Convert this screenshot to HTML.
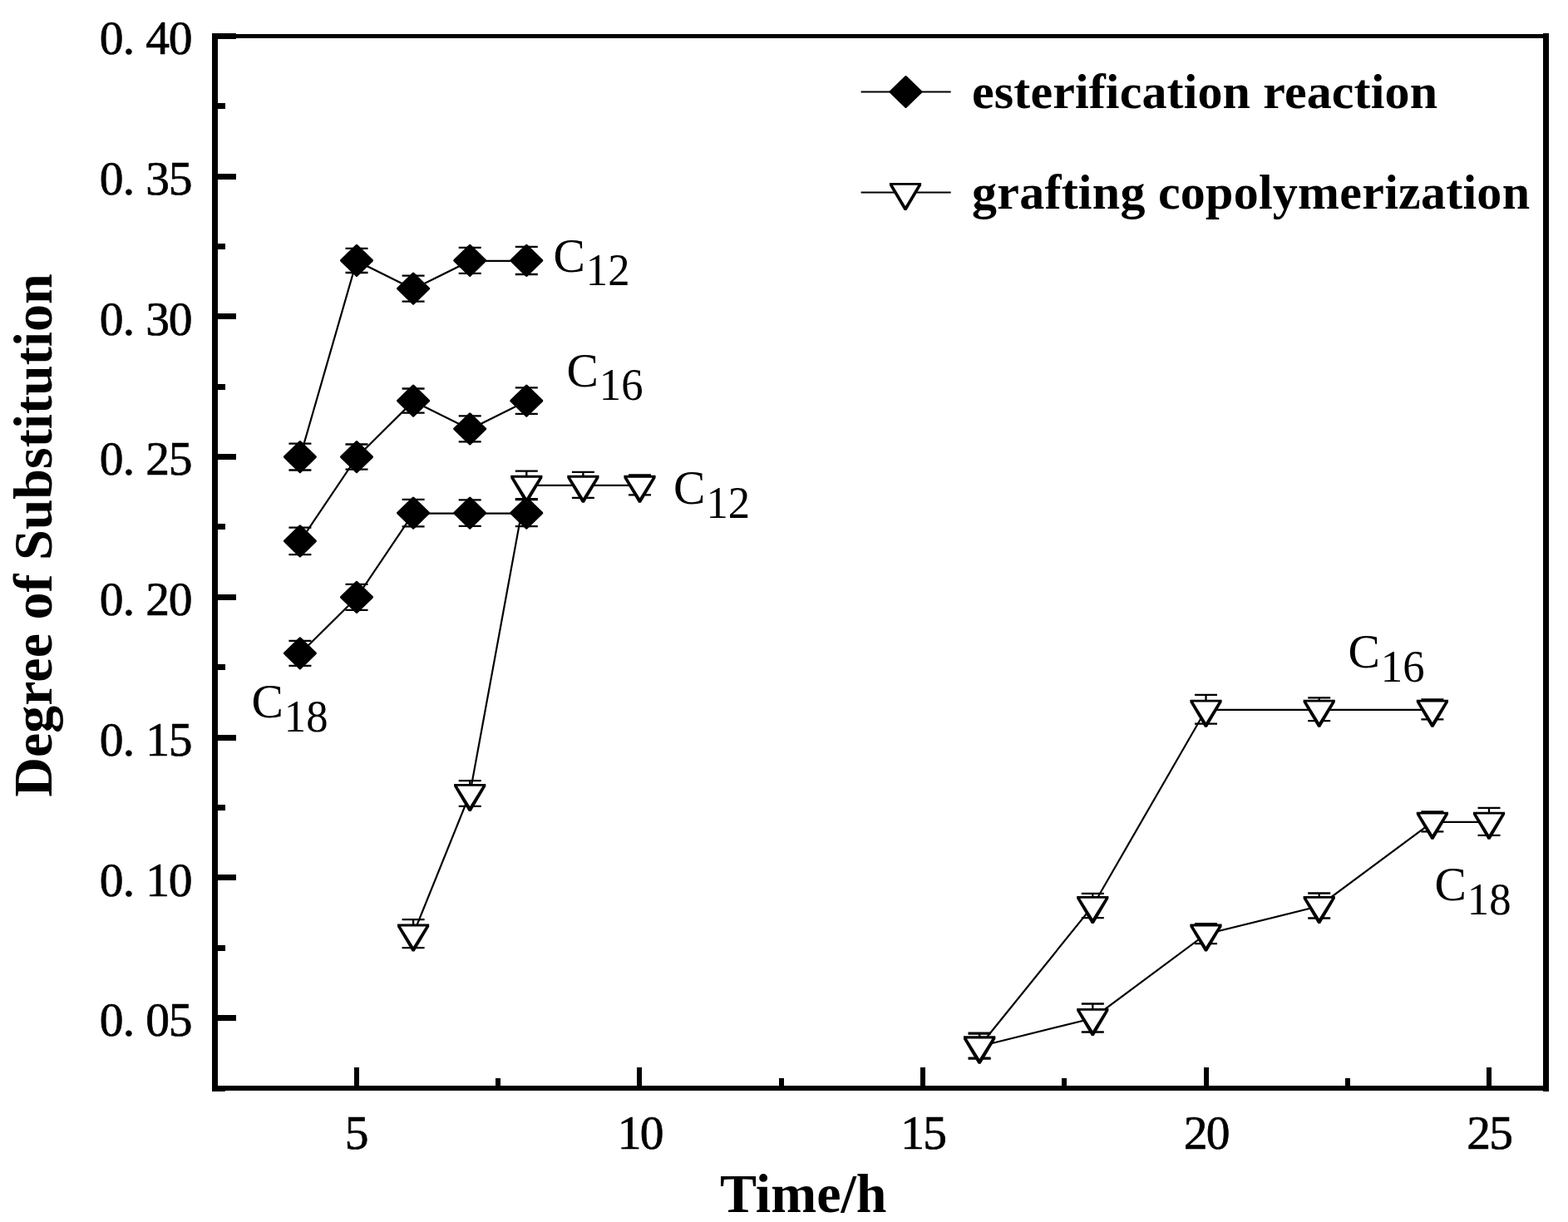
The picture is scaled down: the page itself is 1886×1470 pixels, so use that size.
<!DOCTYPE html>
<html><head><meta charset="utf-8"><title>Degree of Substitution vs Time</title>
<style>
html,body{margin:0;padding:0;background:#fff;}
body{width:1886px;height:1470px;overflow:hidden;}
svg{display:block;}
.tk{font-family:"Liberation Serif","Noto Serif CJK SC",serif;font-size:57.5px;text-anchor:middle;stroke:#000;stroke-width:0.7;}
.ttl{font-family:"Liberation Serif",serif;font-weight:bold;font-size:66px;}
.lg{font-family:"Liberation Serif",serif;font-weight:bold;font-size:60px;}
.cl{font-family:"Liberation Serif",serif;font-size:57.5px;}
.sb{font-size:55px;}
.ln{fill:none;stroke:#000;stroke-width:2.2;}
.eb{fill:none;stroke:#000;stroke-width:2.3;}
.dm{fill:#000;stroke:#000;stroke-width:3;stroke-linejoin:round;}
</style></head>
<body>
<svg width="1886" height="1470" viewBox="0 0 1886 1470">
<rect width="1886" height="1470" fill="#fff"/>
<rect x="255" y="40" width="7" height="1273"/>
<rect x="1856" y="40" width="7" height="1273"/>
<rect x="255" y="41" width="1608" height="5"/>
<rect x="255" y="1306" width="1608" height="6"/>
<rect x="262" y="40" width="22" height="7"/>
<rect x="262" y="209" width="22" height="7"/>
<rect x="262" y="377" width="22" height="7"/>
<rect x="262" y="546" width="22" height="7"/>
<rect x="262" y="715" width="22" height="7"/>
<rect x="262" y="884" width="22" height="7"/>
<rect x="262" y="1052" width="22" height="7"/>
<rect x="262" y="1221" width="22" height="7"/>
<rect x="262" y="124" width="9" height="7"/>
<rect x="262" y="293" width="9" height="7"/>
<rect x="262" y="462" width="9" height="7"/>
<rect x="262" y="630" width="9" height="7"/>
<rect x="262" y="799" width="9" height="7"/>
<rect x="262" y="968" width="9" height="7"/>
<rect x="262" y="1137" width="9" height="7"/>
<rect x="262" y="1306" width="9" height="7"/>
<rect x="426" y="1284" width="6" height="22"/>
<rect x="766" y="1284" width="6" height="22"/>
<rect x="1107" y="1284" width="6" height="22"/>
<rect x="1448" y="1284" width="6" height="22"/>
<rect x="1788" y="1284" width="6" height="22"/>
<rect x="596" y="1297" width="6" height="9"/>
<rect x="937" y="1297" width="6" height="9"/>
<rect x="1277" y="1297" width="6" height="9"/>
<rect x="1618" y="1297" width="6" height="9"/>
<text class="tk" y="65.2"><tspan x="134">0</tspan><tspan x="155">.</tspan><tspan x="189.5">4</tspan><tspan x="217">0</tspan></text>
<text class="tk" y="233.9"><tspan x="134">0</tspan><tspan x="155">.</tspan><tspan x="189.5">3</tspan><tspan x="217">5</tspan></text>
<text class="tk" y="402.6"><tspan x="134">0</tspan><tspan x="155">.</tspan><tspan x="189.5">3</tspan><tspan x="217">0</tspan></text>
<text class="tk" y="571.3"><tspan x="134">0</tspan><tspan x="155">.</tspan><tspan x="189.5">2</tspan><tspan x="217">5</tspan></text>
<text class="tk" y="740.0"><tspan x="134">0</tspan><tspan x="155">.</tspan><tspan x="189.5">2</tspan><tspan x="217">0</tspan></text>
<text class="tk" y="908.8"><tspan x="134">0</tspan><tspan x="155">.</tspan><tspan x="189.5">1</tspan><tspan x="217">5</tspan></text>
<text class="tk" y="1077.5"><tspan x="134">0</tspan><tspan x="155">.</tspan><tspan x="189.5">1</tspan><tspan x="217">0</tspan></text>
<text class="tk" y="1246.2"><tspan x="134">0</tspan><tspan x="155">.</tspan><tspan x="189.5">0</tspan><tspan x="217">5</tspan></text>
<text class="tk" x="429.0" y="1382">5</text>
<text class="tk" y="1382"><tspan x="757.0">1</tspan><tspan x="784.0">0</tspan></text>
<text class="tk" y="1382"><tspan x="1097.5">1</tspan><tspan x="1124.5">5</tspan></text>
<text class="tk" y="1382"><tspan x="1438.0">2</tspan><tspan x="1465.0">0</tspan></text>
<text class="tk" y="1382"><tspan x="1778.5">2</tspan><tspan x="1805.5">5</tspan></text>
<text class="ttl" x="866" y="1458">Time/h</text>
<text class="ttl" transform="translate(62,958.7) rotate(-90)" x="0" y="0">Degree of Substitution</text>
<polyline class="ln" points="360.9,550.1 429.0,313.9 497.1,347.7 565.2,313.9 633.3,313.9"/>
<polyline class="ln" points="360.9,651.4 429.0,550.1 497.1,482.6 565.2,516.4 633.3,482.6"/>
<polyline class="ln" points="360.9,786.3 429.0,718.8 497.1,617.6 565.2,617.6 633.3,617.6"/>
<polyline class="ln" points="497.1,1123.7 565.2,955.0 633.3,583.9 701.4,583.9 769.5,583.9"/>
<polyline class="ln" points="1178.1,1258.7 1314.3,1090.0 1450.5,853.8 1586.7,853.8 1722.9,853.8"/>
<polyline class="ln" points="1178.1,1258.7 1314.3,1225.0 1450.5,1123.7 1586.7,1090.0 1722.9,988.8 1791.0,988.8"/>
<path class="eb" d="M360.9 533.7V565.5M347.4 533.7h27M347.4 565.5h27"/>
<path class="dm" d="M360.9 531.6L379.4 549.6L360.9 567.6L342.4 549.6Z"/>
<path class="eb" d="M429.0 298.8V328.0M415.5 298.8h27M415.5 328.0h27"/>
<path class="dm" d="M429.0 295.4L447.5 313.4L429.0 331.4L410.5 313.4Z"/>
<path class="eb" d="M497.1 331.7V362.7M483.6 331.7h27M483.6 362.7h27"/>
<path class="dm" d="M497.1 329.2L515.6 347.2L497.1 365.2L478.6 347.2Z"/>
<path class="eb" d="M565.2 297.9V328.9M551.7 297.9h27M551.7 328.9h27"/>
<path class="dm" d="M565.2 295.4L583.7 313.4L565.2 331.4L546.7 313.4Z"/>
<path class="eb" d="M633.3 296.8V330.0M619.8 296.8h27M619.8 330.0h27"/>
<path class="dm" d="M633.3 295.4L651.8 313.4L633.3 331.4L614.8 313.4Z"/>
<path class="eb" d="M360.9 634.7V667.1M347.4 634.7h27M347.4 667.1h27"/>
<path class="dm" d="M360.9 632.9L379.4 650.9L360.9 668.9L342.4 650.9Z"/>
<path class="eb" d="M429.0 534.5V564.7M415.5 534.5h27M415.5 564.7h27"/>
<path class="dm" d="M429.0 531.6L447.5 549.6L429.0 567.6L410.5 549.6Z"/>
<path class="eb" d="M497.1 467.5V496.7M483.6 467.5h27M483.6 496.7h27"/>
<path class="dm" d="M497.1 464.1L515.6 482.1L497.1 500.1L478.6 482.1Z"/>
<path class="eb" d="M565.2 500.4V531.4M551.7 500.4h27M551.7 531.4h27"/>
<path class="dm" d="M565.2 497.9L583.7 515.9L565.2 533.9L546.7 515.9Z"/>
<path class="eb" d="M633.3 466.4V497.8M619.8 466.4h27M619.8 497.8h27"/>
<path class="dm" d="M633.3 464.1L651.8 482.1L633.3 500.1L614.8 482.1Z"/>
<path class="eb" d="M360.9 770.8V800.8M347.4 770.8h27M347.4 800.8h27"/>
<path class="dm" d="M360.9 767.8L379.4 785.8L360.9 803.8L342.4 785.8Z"/>
<path class="eb" d="M429.0 702.8V733.8M415.5 702.8h27M415.5 733.8h27"/>
<path class="dm" d="M429.0 700.3L447.5 718.3L429.0 736.3L410.5 718.3Z"/>
<path class="eb" d="M497.1 600.8V633.4M483.6 600.8h27M483.6 633.4h27"/>
<path class="dm" d="M497.1 599.1L515.6 617.1L497.1 635.1L478.6 617.1Z"/>
<path class="eb" d="M565.2 601.4V632.8M551.7 601.4h27M551.7 632.8h27"/>
<path class="dm" d="M565.2 599.1L583.7 617.1L565.2 635.1L546.7 617.1Z"/>
<path class="eb" d="M633.3 601.1V633.1M619.8 601.1h27M619.8 633.1h27"/>
<path class="dm" d="M633.3 599.1L651.8 617.1L633.3 635.1L614.8 617.1Z"/>
<path class="eb" d="M497.1 1106.2V1140.2M483.6 1106.2h27M483.6 1140.2h27"/>
<path d="M478.0 1111.6H516.2V1114.7L498.5 1144.6H495.7L478.0 1114.7Z"/>
<path fill="#fff" d="M482.0 1114.5H512.2L497.1 1138.8Z"/>
<path class="eb" d="M565.2 939.2V969.8M551.7 939.2h27M551.7 969.8h27"/>
<path d="M546.1 942.9H584.3V946.0L566.6 975.9H563.8L546.1 946.0Z"/>
<path fill="#fff" d="M550.1 945.8H580.3L565.2 970.1Z"/>
<path class="eb" d="M633.3 566.6V600.2M619.8 566.6h27M619.8 600.2h27"/>
<path d="M614.2 571.8H652.4V574.9L634.7 604.8H631.9L614.2 574.9Z"/>
<path fill="#fff" d="M618.2 574.7H648.4L633.3 599.0Z"/>
<path class="eb" d="M701.4 567.9V598.9M687.9 567.9h27M687.9 598.9h27"/>
<path d="M682.3 571.8H720.5V574.9L702.8 604.8H700.0L682.3 574.9Z"/>
<path fill="#fff" d="M686.3 574.7H716.5L701.4 599.0Z"/>
<path class="eb" d="M769.5 571.4V595.4M756.0 571.4h27M756.0 595.4h27"/>
<path d="M750.4 571.8H788.6V574.9L770.9 604.8H768.1L750.4 574.9Z"/>
<path fill="#fff" d="M754.4 574.7H784.6L769.5 599.0Z"/>
<path class="eb" d="M1178.1 1242.7V1273.7M1164.6 1242.7h27M1164.6 1273.7h27"/>
<path d="M1159.0 1246.6H1197.2V1249.7L1179.5 1279.6H1176.7L1159.0 1249.7Z"/>
<path fill="#fff" d="M1163.0 1249.5H1193.2L1178.1 1273.8Z"/>
<path class="eb" d="M1314.3 1074.8V1104.2M1300.8 1074.8h27M1300.8 1104.2h27"/>
<path d="M1295.2 1077.9H1333.4V1081.0L1315.7 1110.9H1312.9L1295.2 1081.0Z"/>
<path fill="#fff" d="M1299.2 1080.8H1329.4L1314.3 1105.1Z"/>
<path class="eb" d="M1450.5 835.9V870.7M1437.0 835.9h27M1437.0 870.7h27"/>
<path d="M1431.4 841.7H1469.6V844.8L1451.9 874.7H1449.1L1431.4 844.8Z"/>
<path fill="#fff" d="M1435.4 844.6H1465.6L1450.5 868.9Z"/>
<path class="eb" d="M1586.7 839.4V867.2M1573.2 839.4h27M1573.2 867.2h27"/>
<path d="M1567.6 841.7H1605.8V844.8L1588.1 874.7H1585.3L1567.6 844.8Z"/>
<path fill="#fff" d="M1571.6 844.6H1601.8L1586.7 868.9Z"/>
<path class="eb" d="M1722.9 841.3V865.3M1709.4 841.3h27M1709.4 865.3h27"/>
<path d="M1703.8 841.7H1742.0V844.8L1724.3 874.7H1721.5L1703.8 844.8Z"/>
<path fill="#fff" d="M1707.8 844.6H1738.0L1722.9 868.9Z"/>
<path class="eb" d="M1178.1 1243.7V1272.7M1164.6 1243.7h27M1164.6 1272.7h27"/>
<path d="M1159.0 1246.6H1197.2V1249.7L1179.5 1279.6H1176.7L1159.0 1249.7Z"/>
<path fill="#fff" d="M1163.0 1249.5H1193.2L1178.1 1273.8Z"/>
<path class="eb" d="M1314.3 1207.5V1241.5M1300.8 1207.5h27M1300.8 1241.5h27"/>
<path d="M1295.2 1212.9H1333.4V1216.0L1315.7 1245.9H1312.9L1295.2 1216.0Z"/>
<path fill="#fff" d="M1299.2 1215.8H1329.4L1314.3 1240.1Z"/>
<path class="eb" d="M1450.5 1111.2V1135.2M1437.0 1111.2h27M1437.0 1135.2h27"/>
<path d="M1431.4 1111.6H1469.6V1114.7L1451.9 1144.6H1449.1L1431.4 1114.7Z"/>
<path fill="#fff" d="M1435.4 1114.5H1465.6L1450.5 1138.8Z"/>
<path class="eb" d="M1586.7 1074.5V1104.5M1573.2 1074.5h27M1573.2 1104.5h27"/>
<path d="M1567.6 1077.9H1605.8V1081.0L1588.1 1110.9H1585.3L1567.6 1081.0Z"/>
<path fill="#fff" d="M1571.6 1080.8H1601.8L1586.7 1105.1Z"/>
<path class="eb" d="M1722.9 976.3V1000.3M1709.4 976.3h27M1709.4 1000.3h27"/>
<path d="M1703.8 976.7H1742.0V979.8L1724.3 1009.7H1721.5L1703.8 979.8Z"/>
<path fill="#fff" d="M1707.8 979.6H1738.0L1722.9 1003.9Z"/>
<path class="eb" d="M1791.0 971.8V1004.8M1777.5 971.8h27M1777.5 1004.8h27"/>
<path d="M1771.9 976.7H1810.1V979.8L1792.4 1009.7H1789.6L1771.9 979.8Z"/>
<path fill="#fff" d="M1775.9 979.6H1806.1L1791.0 1003.9Z"/>
<line class="ln" x1="1035.6" y1="110.5" x2="1143.7" y2="110.5"/>
<path class="dm" d="M1089.5 92.5L1108.0 110.5L1089.5 128.5L1071.0 110.5Z"/>
<line class="ln" x1="1035.6" y1="231.5" x2="1143.7" y2="231.5"/>
<path d="M1069.9 219.9H1108.1V223.0L1090.4 252.9H1087.6L1069.9 223.0Z"/>
<path fill="#fff" d="M1073.9 222.8H1104.1L1089.0 248.1Z"/>
<text class="lg" x="1169" y="130" textLength="560" lengthAdjust="spacing">esterification reaction</text>
<text class="lg" x="1169" y="251" textLength="671" lengthAdjust="spacing">grafting copolymerization</text>
<text class="cl" x="665.5" y="326.8">C<tspan class="sb" dx="1.0" y="342.6" textLength="52.7" lengthAdjust="spacingAndGlyphs">12</tspan></text>
<text class="cl" x="681.5" y="464.8">C<tspan class="sb" dx="1.0" y="481.1" textLength="52.7" lengthAdjust="spacingAndGlyphs">16</tspan></text>
<text class="cl" x="810.1" y="605.8">C<tspan class="sb" dx="1.0" y="622.6" textLength="52.7" lengthAdjust="spacingAndGlyphs">12</tspan></text>
<text class="cl" x="302.5" y="862.8">C<tspan class="sb" dx="1.0" y="879.6" textLength="52.7" lengthAdjust="spacingAndGlyphs">18</tspan></text>
<text class="cl" x="1621.5" y="802.8">C<tspan class="sb" dx="1.0" y="819.6" textLength="52.7" lengthAdjust="spacingAndGlyphs">16</tspan></text>
<text class="cl" x="1725.5" y="1082.8">C<tspan class="sb" dx="1.0" y="1099.6" textLength="52.7" lengthAdjust="spacingAndGlyphs">18</tspan></text>
</svg>
</body></html>
